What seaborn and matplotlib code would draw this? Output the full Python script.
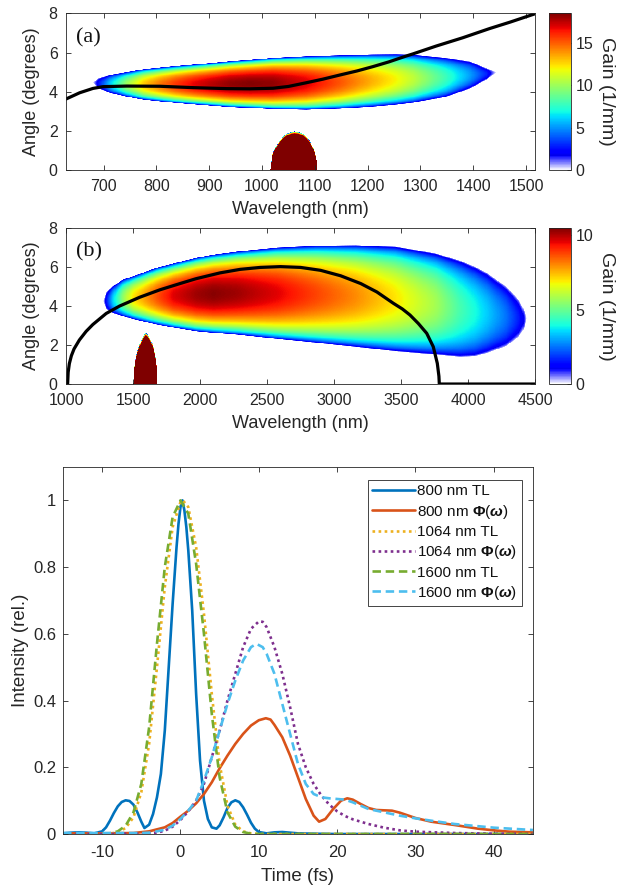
import numpy as np
import matplotlib
matplotlib.use('Agg')
import matplotlib.pyplot as plt
import seaborn as sns
from matplotlib.colors import ListedColormap

# ---- panel (a): gain lobe (per wavelength column) ----
a_lam = [679, 690, 712, 744, 775, 807, 838, 870, 901, 940, 977, 1021, 1084, 1147, 1210, 1254, 1286, 1349, 1395, 1425, 1445]
a_upper = [4.46, 4.68, 4.85, 5.0, 5.14, 5.23, 5.31, 5.38, 5.45, 5.55, 5.62, 5.72, 5.8, 5.85, 5.89, 5.9, 5.88, 5.72, 5.53, 5.2, 4.98]
a_lower = [4.46, 4.15, 3.92, 3.73, 3.58, 3.49, 3.41, 3.34, 3.28, 3.2, 3.16, 3.1, 3.07, 3.12, 3.22, 3.32, 3.42, 3.72, 4.15, 4.6, 4.98]
a_peak = [0, 2.5, 6, 10, 12.8, 14.5, 15.8, 16.8, 17.5, 18.2, 18.4, 18.2, 17, 15.2, 13.3, 12, 10.8, 7.8, 5.2, 3.0, 0]
# saturated blob near the pump
a_blob_lam = [1016, 1020, 1024, 1030, 1034, 1040, 1047, 1055, 1062, 1070, 1078, 1085, 1091, 1096, 1100, 1103, 1105]
a_blob_top = [0, 0.8, 1.05, 1.35, 1.5, 1.7, 1.84, 1.93, 1.96, 1.93, 1.84, 1.68, 1.47, 1.2, 0.9, 0.55, 0]
# black phase-matching curve
a_curve_lam = [629, 655, 680, 699, 744, 807, 870, 933, 977, 1021, 1050, 1084, 1115, 1147, 1180, 1210, 1240, 1273, 1286, 1330, 1380, 1431, 1470, 1520]
a_curve_ang = [3.63, 3.95, 4.17, 4.26, 4.29, 4.28, 4.21, 4.16, 4.15, 4.18, 4.27, 4.46, 4.64, 4.85, 5.06, 5.28, 5.52, 5.82, 5.93, 6.33, 6.75, 7.22, 7.55, 8.0]

# ---- panel (b) ----
b_lam = [1274, 1300, 1350, 1423, 1500, 1672, 1800, 1970, 2100, 2277, 2573, 2868, 3164, 3459, 3755, 3940, 4051, 4134, 4287, 4380, 4420, 4440]
b_upper = [4.22, 4.7, 5.0, 5.33, 5.5, 5.93, 6.15, 6.44, 6.6, 6.76, 6.96, 7.06, 7.08, 7.01, 6.67, 6.3, 5.99, 5.7, 4.97, 4.3, 3.79, 3.35]
b_lower = [4.22, 3.8, 3.6, 3.45, 3.3, 3.03, 2.87, 2.68, 2.6, 2.51, 2.29, 2.09, 1.88, 1.66, 1.49, 1.37, 1.4, 1.55, 1.92, 2.4, 2.8, 3.35]
b_peak = [0, 1.5, 3.5, 5.5, 7, 8.6, 9.6, 10.2, 10.4, 10.2, 9.6, 8.8, 8.0, 7.0, 5.8, 4.6, 4.0, 3.5, 2.5, 1.6, 1.0, 0]
b_blob_lam = [1502, 1510, 1520, 1535, 1550, 1565, 1580, 1592, 1605, 1620, 1635, 1650, 1665, 1675, 1681]
b_blob_top = [0, 0.9, 1.35, 1.75, 2.05, 2.3, 2.5, 2.6, 2.55, 2.4, 2.2, 1.9, 1.4, 0.9, 0]
b_curve_lam = [1012, 1016, 1025, 1040, 1060, 1100, 1150, 1200, 1300, 1400, 1550, 1700, 1850, 1970, 2150, 2300, 2450, 2600,
               2750, 2900, 3050, 3200, 3320, 3443, 3510, 3567, 3630, 3692, 3741, 3771, 3783, 3786, 4500]
b_curve_ang = [0, 0.6, 1.05, 1.45, 1.8, 2.26, 2.7, 3.05, 3.62, 4.0, 4.45, 4.83, 5.15, 5.4, 5.7, 5.88, 5.98, 6.02,
               5.98, 5.83, 5.55, 5.15, 4.72, 4.14, 3.85, 3.54, 3.1, 2.6, 1.91, 1.06, 0.4, 0, 0]

# ---- panel (c): temporal intensity profiles ----
t_800tl = [-15, -14, -13, -12, -11, -10, -9.5, -9, -8.5, -8, -7.5, -7, -6.5, -6, -5.5, -5, -4.6, -4, -3.5, -3, -2.5, -2, -1.5,
           -1, -0.5, -0.25, 0, 0.25, 0.5, 0.75, 1, 1.5, 2, 2.5, 3, 3.5, 4, 4.6, 5, 5.5, 6, 6.5, 7, 7.5, 8, 8.5, 9, 9.5, 10,
           11, 12, 13, 14, 15, 17, 20, 45]
i_800tl = [0.002, 0.004, 0.005, 0.004, 0.002, 0.008, 0.02, 0.04, 0.063, 0.083, 0.096, 0.101, 0.099, 0.088, 0.065, 0.037, 0.018,
           0.028, 0.06, 0.11, 0.18, 0.31, 0.5, 0.69, 0.86, 0.93, 0.98, 1.0, 0.97, 0.92, 0.85, 0.67, 0.42, 0.22, 0.1, 0.045,
           0.02, 0.016, 0.026, 0.05, 0.078, 0.095, 0.101, 0.096, 0.08, 0.058, 0.034, 0.016, 0.006, 0.002, 0.005, 0.006,
           0.004, 0.002, 0.001, 0.0, 0.0]
t_800ph = [-15, -10, -6, -4, -2, -1, 0, 1, 2, 3, 4, 5, 6, 7, 8, 9, 10, 10.9, 11.5, 12, 13, 14, 15, 16, 17, 17.7, 18.5, 19.5,
           20.5, 21.3, 22, 23, 24, 25, 26, 27, 28, 29, 30, 32, 35, 38, 40, 42, 45]
i_800ph = [0.002, 0.002, 0.003, 0.008, 0.02, 0.033, 0.052, 0.07, 0.092, 0.12, 0.155, 0.197, 0.235, 0.27, 0.3, 0.325, 0.341,
           0.347, 0.343, 0.327, 0.29, 0.235, 0.17, 0.105, 0.055, 0.037, 0.045, 0.075, 0.1, 0.107, 0.103, 0.09, 0.078, 0.072,
           0.071, 0.07, 0.064, 0.056, 0.048, 0.037, 0.027, 0.016, 0.011, 0.007, 0.005]
t_1064tl = [-15, -10, -9, -8, -7, -6, -5, -4, -3, -2, -1, 0, 0.3, 1, 2, 3, 4, 5, 6, 7, 8, 9, 10, 45]
i_1064tl = [0, 0, 0.001, 0.005, 0.018, 0.05, 0.125, 0.27, 0.5, 0.74, 0.92, 0.995, 1.0, 0.98, 0.86, 0.66, 0.42, 0.21, 0.085,
            0.028, 0.008, 0.002, 0, 0]
t_1064ph = [-15, -5, -3, -2, -1, 0, 1, 2, 3, 4, 5, 6, 7, 8, 9, 10, 10.5, 11, 12, 13, 14, 15, 16, 17, 18, 19, 20, 21, 22,
            24, 26, 28, 30, 35, 40, 45]
i_1064ph = [0.0, 0.001, 0.004, 0.01, 0.022, 0.042, 0.068, 0.1, 0.15, 0.23, 0.31, 0.4, 0.48, 0.56, 0.615, 0.637, 0.636, 0.62,
            0.56, 0.48, 0.38, 0.27, 0.2, 0.15, 0.115, 0.088, 0.068, 0.054, 0.044, 0.03, 0.019, 0.011, 0.007, 0.003, 0.001, 0.0]
t_1600tl = [-15, -10, -9, -8, -7, -6, -5, -4, -3, -2, -1, 0, 1, 2, 3, 4, 5, 6, 7, 8, 9, 10, 45]
i_1600tl = [0, 0, 0.002, 0.008, 0.025, 0.065, 0.15, 0.32, 0.57, 0.8, 0.95, 1.0, 0.96, 0.81, 0.6, 0.36, 0.17, 0.065, 0.022,
            0.006, 0.001, 0, 0]
t_1600ph = [-15, -5, -4, -3, -2, -1, 0, 1, 2, 3, 4, 5, 6, 7, 8, 9, 9.7, 10.5, 11, 12, 13, 14, 15, 16, 17, 18, 19, 20, 21,
            22, 23, 24, 26, 28, 30, 32, 35, 40, 45]
i_1600ph = [0.003, 0.003, 0.004, 0.008, 0.013, 0.025, 0.045, 0.07, 0.1, 0.16, 0.23, 0.31, 0.39, 0.46, 0.52, 0.56, 0.57, 0.56,
            0.54, 0.48, 0.39, 0.3, 0.21, 0.15, 0.12, 0.11, 0.107, 0.105, 0.103, 0.095, 0.085, 0.075, 0.065, 0.055, 0.047,
            0.04, 0.03, 0.019, 0.012]

sns.set_style('ticks')
plt.rcParams['font.family'] = ['Liberation Sans', 'DejaVu Sans']
plt.rcParams['font.sans-serif'] = ['Liberation Sans']
plt.rcParams['mathtext.fontset'] = 'custom'
plt.rcParams['mathtext.rm'] = 'Liberation Sans'
plt.rcParams['mathtext.it'] = 'Liberation Sans:italic'
plt.rcParams['mathtext.bf'] = 'Liberation Sans:bold'
plt.rcParams['mathtext.bfit'] = 'Liberation Sans:italic:bold'
plt.rcParams['axes.unicode_minus'] = False
dark = '#262626'

# jet colormap whose lowest part fades to white
jet = plt.get_cmap('jet')(np.linspace(0, 1, 256))
blue = plt.get_cmap('jet')(0.11)
nfade = 24
for k in range(nfade):
    f = k / nfade
    jet[k] = (1 - f) * np.array([1, 1, 1, 1]) + f * np.array(blue)
gain_cmap = ListedColormap(jet)


def lobe(lg, ag, lam, up, lo, pk):
    upi = np.interp(lg, lam, up, left=np.nan, right=np.nan)
    loi = np.interp(lg, lam, lo, left=np.nan, right=np.nan)
    pki = np.interp(lg, lam, pk, left=0, right=0)
    mid = (upi + loi) / 2
    half = (upi - loi) / 2
    with np.errstate(all='ignore'):
        u = (ag[:, None] - mid[None, :]) / half[None, :]
        g = pki[None, :] * np.clip(1 - u ** 2, 0, None) ** 0.55
    return np.nan_to_num(g)


def style_axes(ax, fs, xpad, ypad):
    for s in ax.spines.values():
        s.set_color(dark)
        s.set_linewidth(0.6)
        s.set_visible(True)
    ax.tick_params(direction='in', top=True, right=True, length=3.5, width=0.6,
                   colors=dark, labelsize=fs, labelcolor=dark)
    ax.tick_params(axis='x', pad=xpad)
    ax.tick_params(axis='y', pad=ypad)


def gain_panel(rect, crect, lam, up, lo, pk, blam, btop, bpeak, clam, cang, xlim, xticks, vmax, cticks, tag):
    ax = fig.add_axes(rect)
    lg = np.linspace(xlim[0], xlim[1], 900)
    ag = np.linspace(0, 8, 500)
    g = np.maximum(lobe(lg, ag, lam, up, lo, pk),
                   lobe(lg, ag, blam, btop, [-v for v in btop], [bpeak] * len(blam)))
    im = ax.imshow(g, extent=[xlim[0], xlim[1], 0, 8], origin='lower', aspect='auto',
                   cmap=gain_cmap, vmin=0, vmax=vmax, interpolation='nearest')
    sns.lineplot(x=clam, y=cang, ax=ax, color='k', lw=2.3, sort=False, estimator=None)
    ax.set_xlim(xlim)
    ax.set_ylim(0, 8)
    ax.set_xticks(xticks)
    ax.set_yticks([0, 2, 4, 6, 8])
    style_axes(ax, 11.5, 6.5, 6)
    ax.set_xlabel('Wavelength (nm)', fontsize=13, color=dark, labelpad=5)
    ax.set_ylabel('Angle (degrees)', fontsize=13, color=dark, labelpad=6)
    ax.text(0.022, 0.845, tag, transform=ax.transAxes, fontsize=16, va='center', ha='left',
            family='Liberation Serif', color='#111111')
    cax = fig.add_axes(crect)
    cb = fig.colorbar(im, cax=cax)
    cb.set_ticks(cticks)
    cb.outline.set_edgecolor(dark)
    cb.outline.set_linewidth(0.6)
    cax.tick_params(direction='in', length=3, width=0.6, colors=dark, labelsize=11.5, labelcolor=dark)
    cb.set_label('Gain (1/mm)', rotation=270, fontsize=14, color=dark, labelpad=16)
    return ax


fig = plt.figure(figsize=(6.21, 8.90), dpi=100)

gain_panel([0.1063, 0.8087, 0.7552, 0.1764], [0.8833, 0.8087, 0.0354, 0.1764],
           a_lam, a_upper, a_lower, a_peak, a_blob_lam, a_blob_top, 60,
           a_curve_lam, a_curve_ang, (629, 1517), range(700, 1501, 100), 18.5, [0, 5, 10, 15], '(a)')
gain_panel([0.1063, 0.5685, 0.7552, 0.1753], [0.8833, 0.5685, 0.0354, 0.1753],
           b_lam, b_upper, b_lower, b_peak, b_blob_lam, b_blob_top, 35,
           b_curve_lam, b_curve_ang, (1000, 4500), range(1000, 4501, 500), 10.5, [0, 5, 10], '(b)')

# ---- panel (c) ----
ax = fig.add_axes([0.1014, 0.0629, 0.7568, 0.4124])
phi = r'$\mathbf{\Phi}(\mathbfit{\omega})$'
series = [
    (t_800tl, i_800tl, '800 nm TL', '#0072BD', '-'),
    (t_800ph, i_800ph, '800 nm ' + phi, '#D95319', '-'),
    (t_1064tl, i_1064tl, '1064 nm TL', '#EDB120', (0, (1, 1.3))),
    (t_1064ph, i_1064ph, '1064 nm ' + phi, '#7E2F8E', (0, (1, 1.3))),
    (t_1600tl, i_1600tl, '1600 nm TL', '#77AC30', (0, (3.2, 1.8))),
    (t_1600ph, i_1600ph, '1600 nm ' + phi, '#4DBEEE', (0, (3.2, 1.8))),
]
for t, v, lab, col, ls in series:
    sns.lineplot(x=t, y=v, ax=ax, color=col, lw=1.9, linestyle=ls, label=lab, sort=False, estimator=None)
ax.set_xlim(-15, 45)
ax.set_ylim(0, 1.1)
ax.set_xticks([-10, 0, 10, 20, 30, 40])
ax.set_yticks([0, 0.2, 0.4, 0.6, 0.8, 1])
ax.set_yticklabels(['0', '0.2', '0.4', '0.6', '0.8', '1'])
style_axes(ax, 12, 8, 5)
ax.set_xlabel('Time (fs)', fontsize=13.5, color=dark, labelpad=6)
ax.set_ylabel('Intensity (rel.)', fontsize=13.5, color=dark, labelpad=3)
leg = ax.legend(loc='upper right', bbox_to_anchor=(0.977, 0.965), borderaxespad=0, fontsize=11,
                frameon=True, fancybox=False, framealpha=1, edgecolor=dark, handlelength=2.8,
                handletextpad=0.15, labelspacing=0.28, borderpad=0.3)
leg.get_frame().set_linewidth(0.6)
for txt in leg.get_texts():
    txt.set_color('#111111')

fig.savefig('out.png', dpi=100)
